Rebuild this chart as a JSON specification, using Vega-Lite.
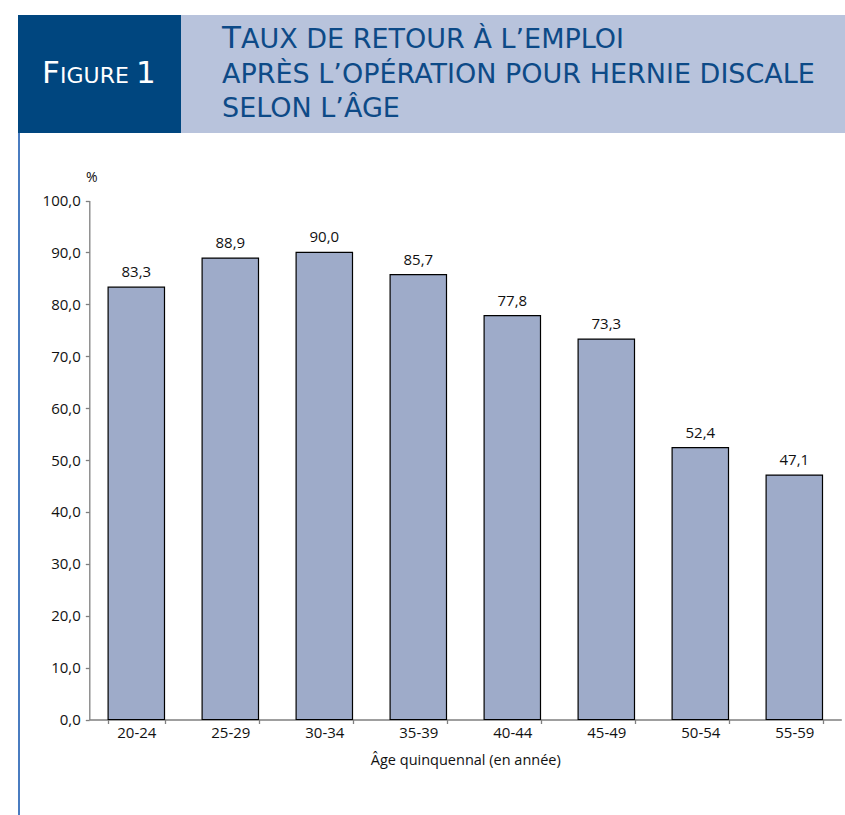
{
  "$schema": "https://vega.github.io/schema/vega-lite/v6.json",
  "width": 827,
  "height": 800,
  "padding": {"left": 18, "top": 15, "right": 0, "bottom": 0},
  "autosize": {"type": "none"},
  "background": "white",
  "config": {
    "view": {"stroke": null},
    "locale": {"number": {"decimal": ",", "thousands": " ", "grouping": [3], "currency": ["", " €"]}}
  },
  "resolve": {"scale": {"x": "independent", "y": "independent"}},
  "layer": [
    {
      "data": {"values": [{}]},
      "layer": [
        {
          "mark": {"type": "rect", "color": "#00467f"},
          "encoding": {
            "x": {"datum": 0, "type": "quantitative", "scale": {"domain": [0, 827], "range": [0, 827], "nice": false, "zero": false}, "axis": null},
            "x2": {"datum": 163},
            "y": {"datum": 0, "type": "quantitative", "scale": {"domain": [0, 800], "range": [0, 800], "nice": false, "zero": false}, "axis": null},
            "y2": {"datum": 118}
          }
        },
        {
          "mark": {"type": "rect", "color": "#b8c3dc"},
          "encoding": {
            "x": {"datum": 163, "type": "quantitative", "axis": null},
            "x2": {"datum": 827},
            "y": {"datum": 0, "type": "quantitative", "axis": null},
            "y2": {"datum": 118}
          }
        },
        {
          "mark": {"type": "rect", "color": "#4a7cc0"},
          "encoding": {
            "x": {"datum": 0, "type": "quantitative", "axis": null},
            "x2": {"datum": 2},
            "y": {"datum": 118, "type": "quantitative", "axis": null},
            "y2": {"datum": 800}
          }
        },
        {
          "mark": {"type": "text", "text": "F", "font": "DejaVu Sans", "fontSize": 31, "color": "#ffffff", "align": "left", "baseline": "alphabetic"},
          "encoding": {"x": {"datum": 24, "type": "quantitative", "axis": null}, "y": {"datum": 68, "type": "quantitative", "axis": null}}
        },
        {
          "mark": {"type": "text", "text": "IGURE", "font": "DejaVu Sans", "fontSize": 22, "color": "#ffffff", "align": "left", "baseline": "alphabetic"},
          "encoding": {"x": {"datum": 42, "type": "quantitative", "axis": null}, "y": {"datum": 68, "type": "quantitative", "axis": null}}
        },
        {
          "mark": {"type": "text", "text": "1", "font": "DejaVu Sans", "fontSize": 31, "color": "#ffffff", "align": "left", "baseline": "alphabetic"},
          "encoding": {"x": {"datum": 118, "type": "quantitative", "axis": null}, "y": {"datum": 68, "type": "quantitative", "axis": null}}
        },
        {
          "mark": {"type": "text", "text": "T", "font": "DejaVu Sans", "fontSize": 31, "color": "#0d4a87", "align": "left", "baseline": "alphabetic"},
          "encoding": {"x": {"datum": 204, "type": "quantitative", "axis": null}, "y": {"datum": 33, "type": "quantitative", "axis": null}}
        },
        {
          "mark": {"type": "text", "text": "AUX DE RETOUR À L’EMPLOI", "font": "DejaVu Sans", "fontSize": 27, "color": "#0d4a87", "align": "left", "baseline": "alphabetic"},
          "encoding": {"x": {"datum": 223, "type": "quantitative", "axis": null}, "y": {"datum": 33, "type": "quantitative", "axis": null}}
        },
        {
          "mark": {"type": "text", "text": "APRÈS L’OPÉRATION POUR HERNIE DISCALE", "font": "DejaVu Sans", "fontSize": 27, "color": "#0d4a87", "align": "left", "baseline": "alphabetic"},
          "encoding": {"x": {"datum": 204, "type": "quantitative", "axis": null}, "y": {"datum": 68, "type": "quantitative", "axis": null}}
        },
        {
          "mark": {"type": "text", "text": "SELON L’ÂGE", "font": "DejaVu Sans", "fontSize": 27, "color": "#0d4a87", "align": "left", "baseline": "alphabetic"},
          "encoding": {"x": {"datum": 204, "type": "quantitative", "axis": null}, "y": {"datum": 102, "type": "quantitative", "axis": null}}
        }
      ]
    },
    {
      "data": {
        "values": [
          {"age": "20-24", "taux": 83.3},
          {"age": "25-29", "taux": 88.9},
          {"age": "30-34", "taux": 90.0},
          {"age": "35-39", "taux": 85.7},
          {"age": "40-44", "taux": 77.8},
          {"age": "45-49", "taux": 73.3},
          {"age": "50-54", "taux": 52.4},
          {"age": "55-59", "taux": 47.1}
        ]
      },
      "encoding": {
        "x": {
          "field": "age",
          "type": "nominal",
          "sort": null,
          "scale": {"range": [71.3, 823.3], "paddingInner": 0.4, "paddingOuter": 0.2},
          "axis": {
            "orient": "bottom",
            "offset": -95.5,
            "title": "Âge quinquennal (en année)",
            "labelAngle": 0,
            "tickBand": "extent",
            "domainColor": "#7f7f7f",
            "domainWidth": 1.3,
            "tickColor": "#7f7f7f",
            "tickWidth": 1.3,
            "tickSize": 4,
            "labelFont": "Open Sans",
            "labelFontSize": 15,
            "labelColor": "#111111",
            "labelPadding": 2,
            "titleFont": "Open Sans",
            "titleFontSize": 14.5,
            "titleFontWeight": "normal",
            "titleColor": "#111111",
            "titlePadding": 13
          }
        },
        "y": {
          "field": "taux",
          "type": "quantitative",
          "scale": {"domain": [0, 100], "range": [704.5, 185.5], "nice": false, "zero": true},
          "axis": {
            "orient": "left",
            "offset": -71.3,
            "values": [0, 10, 20, 30, 40, 50, 60, 70, 80, 90, 100],
            "format": ".1f",
            "grid": false,
            "domainColor": "#7f7f7f",
            "domainWidth": 1.3,
            "tickColor": "#7f7f7f",
            "tickWidth": 1.3,
            "tickSize": 4,
            "labelFont": "Open Sans",
            "labelFontSize": 15,
            "labelColor": "#111111",
            "labelPadding": 5,
            "title": "%",
            "titleAngle": 0,
            "titleX": 2,
            "titleY": 166.7,
            "titleAlign": "center",
            "titleBaseline": "alphabetic",
            "titleFont": "Open Sans",
            "titleFontSize": 14,
            "titleFontWeight": "normal",
            "titleColor": "#111111"
          }
        }
      },
      "layer": [
        {"mark": {"type": "bar", "fill": "#9eabc9", "stroke": "#000000", "strokeWidth": 1.2}},
        {
          "mark": {"type": "text", "dy": -10, "baseline": "alphabetic", "font": "Open Sans", "fontSize": 15, "color": "#111111"},
          "encoding": {"text": {"field": "taux", "type": "quantitative", "format": ".1f"}}
        }
      ]
    }
  ]
}
